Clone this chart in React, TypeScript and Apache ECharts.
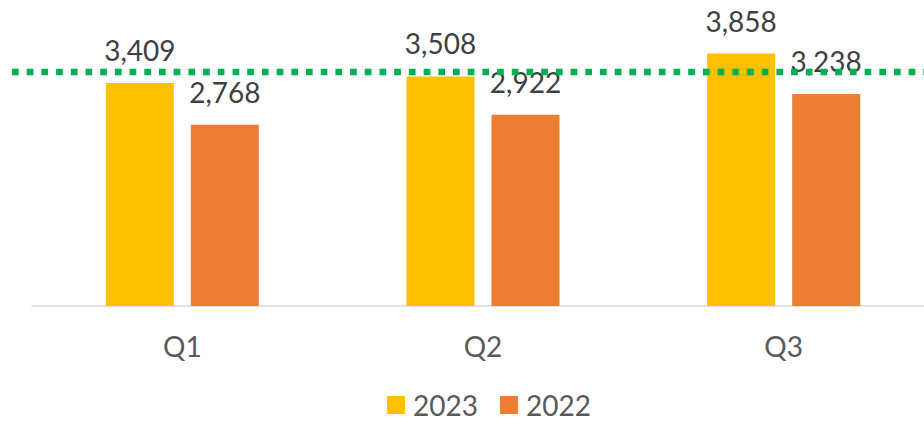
import React, { useEffect, useRef } from "react";
import * as echarts from "echarts";

const categories = ["Q1", "Q2", "Q3"];
const series2023 = [3409, 3508, 3858];
const series2022 = [2768, 2922, 3238];
const targetValue = 3575;
const seriesNames = ["2023", "2022"];

const FONT = "Lato, 'Noto Sans', sans-serif";

export default function App() {
  const ref = useRef<HTMLDivElement>(null);
  useEffect(() => {
    if (!ref.current) return;
    const chart = echarts.init(ref.current, undefined, { renderer: "svg" });
    const fmt = (p: any) => Number(p.value).toLocaleString("en-US");
    chart.setOption({
      animation: false,
      backgroundColor: "#ffffff",
      textStyle: { fontFamily: FONT },
      grid: [
        { left: 32, right: 0, top: 11.5, bottom: 117, containLabel: false },
        { left: 12, right: 10, top: 11.5, bottom: 117, containLabel: false },
      ],
      legend: {
        data: seriesNames,
        left: 387,
        top: 391,
        padding: 0,
        icon: "rect",
        itemWidth: 18,
        itemHeight: 18,
        itemGap: 22,
        textStyle: { fontSize: 28, color: "#595959", fontFamily: FONT, padding: [0, 0, 0, 3] },
      },
      xAxis: [
        {
          type: "category",
          gridIndex: 0,
          data: categories,
          axisLine: { lineStyle: { color: "#D9D9D9", width: 1.5 } },
          axisTick: { show: false },
          axisLabel: { fontSize: 28, color: "#595959", margin: 26, fontFamily: FONT },
        },
        { type: "value", gridIndex: 1, min: 0, max: 1, show: false },
      ],
      yAxis: [
        { type: "value", gridIndex: 0, min: 0, max: 4500, show: false, splitLine: { show: false } },
        { type: "value", gridIndex: 1, min: 0, max: 4500, show: false, splitLine: { show: false } },
      ],
      series: [
        {
          name: seriesNames[0],
          type: "bar",
          data: series2023,
          barWidth: 68,
          barGap: "25%",
          itemStyle: { color: "#FFC000" },
          label: { show: true, position: "top", distance: 19, fontSize: 28, color: "#404040", fontFamily: FONT, formatter: fmt },
        },
        {
          name: seriesNames[1],
          type: "bar",
          data: series2022,
          barWidth: 68,
          barGap: "25%",
          itemStyle: { color: "#ED7D31" },
          label: { show: true, position: "top", distance: 19, fontSize: 28, color: "#404040", fontFamily: FONT, formatter: fmt },
        },
        {
          name: "target",
          type: "line",
          xAxisIndex: 1,
          yAxisIndex: 1,
          data: [[0, targetValue], [1, targetValue]],
          symbol: "none",
          z: 5,
          lineStyle: { color: "#00B050", width: 6.5, type: [6.7, 8], cap: "butt" },
        },
      ],
    });
    return () => chart.dispose();
  }, []);
  return (
    <div
      ref={ref}
      style={{ position: "fixed", left: 0, top: 0, width: 934, height: 423, background: "#fff" }}
    />
  );
}
